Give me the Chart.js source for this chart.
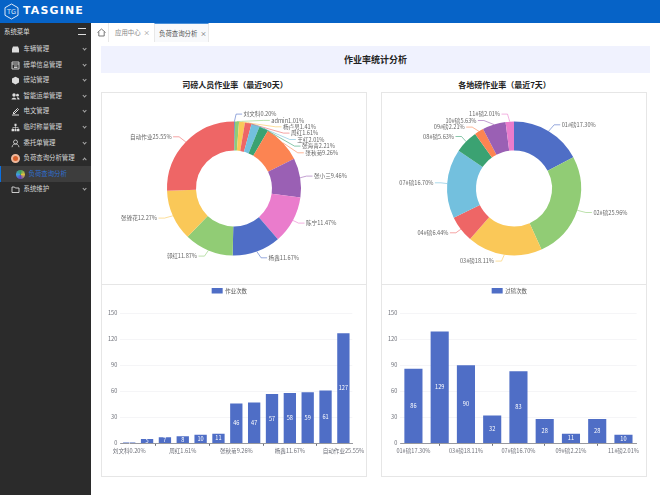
<!DOCTYPE html>
<html lang="zh">
<head>
<meta charset="utf-8">
<title>作业率统计分析</title>
<script src="https://cdn.jsdelivr.net/npm/chart.js@4"></script>
<style>
  * { box-sizing: border-box; }
  html, body { margin: 0; width: 660px; height: 495px; overflow: hidden; background: #fff; font-family: "Noto Sans CJK SC", sans-serif; }
  #top { position: absolute; left: 0; top: 0; width: 660px; height: 23px; background: #0663c7; }
  #top svg { position: absolute; left: 4px; top: 3px; }
  #brand { position: absolute; left: 23px; top: 4px; color: #fff; font: bold 11px/14px "DejaVu Sans", sans-serif; letter-spacing: 1.15px; }
  #side { position: absolute; left: 0; top: 23px; width: 91px; height: 472px; background: #2b2b2b; color: #d6d6d6; font-size: 6.4px; }
  .row { position: absolute; left: 0; width: 91px; height: 16px; line-height: 16px; white-space: nowrap; }
  .row span { position: absolute; left: 23.5px; }
  .row svg { position: absolute; left: 10.5px; top: 3.5px; }
  .row b { position: absolute; left: 82.5px; top: 5.5px; width: 3.2px; height: 3.2px; border-right: .7px solid #aaa; border-bottom: .7px solid #aaa; transform: rotate(45deg); }
  .row.open b { top: 7.5px; transform: rotate(225deg); }
  .row.open i { position: absolute; left: 10.5px; top: 3.5px; width: 9px; height: 9px; border-radius: 50%; background: #d8602c; border: 2px solid #eeb89c; }
  .row.on { background: #3d3d3d; color: #2f6fd0; border-left: 1.5px solid #0a6fe0; }
  .row.on span { left: 27.5px; }
  .row.on i { position: absolute; left: 14.5px; width: 9px; height: 9px; top: 3.5px; border-radius: 50%; background: conic-gradient(#3f9f5f, #e0c040, #6040c0, #3f9fe0, #3f9f5f); }
  #sideHead { position: absolute; left: 4px; top: 3px; line-height: 12px; font-size: 6.4px; color: #ddd; }
  #fold { position: absolute; left: 78px; top: 5px; width: 8px; height: 7px; border-top: 1px solid #ddd; border-bottom: 1px solid #ddd; }
  #tabs { position: absolute; left: 91px; top: 23px; width: 569px; height: 19px; font-size: 6.4px; color: #888; }
  #tabs div { position: absolute; top: 0; height: 19px; line-height: 20px; white-space: nowrap; }
  #homeTab { left: 0; width: 18px; border-right: 1px solid #e8e8e8; }
  #homeTab svg { position: absolute; left: 6px; top: 5px; }
  #tab1 { left: 24px; width: 39px; }
  #tab2 { left: 63px; width: 55px; padding-left: 4px; color: #555; background: #f8f9fb; border-top: 1px solid #4a90d9; border-left: 1px solid #e8e8e8; border-right: 1px solid #e8e8e8; }
  #band { position: absolute; left: 101px; top: 46px; width: 549px; height: 27px; background: #f0f2fe; text-align: center; line-height: 27px; font-size: 9px; font-weight: bold; color: #222; }
  .title { position: absolute; top: 79px; font-size: 8px; font-weight: bold; line-height: 12px; color: #222; white-space: nowrap; transform: translateX(-50%); }
  .box { position: absolute; border: 1px solid #e6e6e6; }
  .box canvas { position: absolute; left: 0; top: 0; }
</style>
</head>
<body>
<div id="top">
  <svg width="15" height="17" viewBox="0 0 15 17"><path d="M7.5 1 L14 4.7 V12.3 L7.5 16 L1 12.3 V4.7 Z" fill="none" stroke="#dfeaf8" stroke-width="1"/><text x="7.5" y="11" font-size="6.5" font-family="DejaVu Sans" fill="#dfeaf8" text-anchor="middle">TG</text></svg>
  <div id="brand">TASGINE</div>
</div>
<div id="side">
  <div id="sideHead">系统菜单</div><div id="fold"></div>
  <div class="row" style="top:18px"><svg width="9" height="9" viewBox="0 0 9 9"><path d="M2 1.5 H7 L8 4 V7.5 H1 V4 Z" fill="#ddd"/></svg><span>车辆管理</span><b></b></div>
  <div class="row" style="top:34px"><svg width="9" height="9" viewBox="0 0 9 9"><path d="M1 1 H8 V8 H1 Z M1 3 H8 M3 5 H6.5 M3 6.5 H6.5" fill="none" stroke="#ddd" stroke-width=".9"/></svg><span>磅单信息管理</span><b></b></div>
  <div class="row" style="top:49px"><svg width="9" height="9" viewBox="0 0 9 9"><path d="M4.5 .8 L8 2.6 V6.6 L4.5 8.4 L1 6.6 V2.6 Z" fill="#ddd"/></svg><span>磅站管理</span><b></b></div>
  <div class="row" style="top:65px"><svg width="9" height="9" viewBox="0 0 9 9"><circle cx="3" cy="3" r="1.7" fill="#ddd"/><circle cx="6.5" cy="3.2" r="1.4" fill="#ddd"/><path d="M.5 7.5 C.8 5 5 5 5.5 7.5 Z M6 5.2 C7.5 5 8.6 6 8.6 7.5 H6.5 Z" fill="#ddd"/></svg><span>智能运单管理</span><b></b></div>
  <div class="row" style="top:80px"><svg width="9" height="9" viewBox="0 0 9 9"><path d="M1 8 H8 M2 6 L6.5 1.5 L7.5 2.5 L3 7 Z" fill="none" stroke="#ddd"/></svg><span>电文管理</span><b></b></div>
  <div class="row" style="top:96px"><svg width="9" height="9" viewBox="0 0 9 9"><path d="M3.5 .8 H5.5 V3 H3.5 Z M.6 6 H3 V8.2 H.6 Z M3.5 6 H5.5 V8.2 H3.5 Z M6 6 H8.4 V8.2 H6 Z" fill="#ddd"/><path d="M4.5 3 V6 M1.8 6 V4.5 H7.2 V6" fill="none" stroke="#ddd" stroke-width=".6"/></svg><span>临时称量管理</span><b></b></div>
  <div class="row" style="top:112px"><svg width="9" height="9" viewBox="0 0 9 9"><circle cx="4.5" cy="3" r="2" fill="none" stroke="#ddd" stroke-width=".8"/><path d="M1 8.2 C1.5 5.5 3 5 4.5 5 C6 5 7.5 5.5 8 8.2" fill="none" stroke="#ddd" stroke-width=".8"/></svg><span>委托单管理</span><b></b></div>
  <div class="row open" style="top:127px"><i></i><span>负荷查询分析管理</span><b></b></div>
  <div class="row on" style="top:143px"><i></i><span>负荷查询分析</span></div>
  <div class="row" style="top:158px"><svg width="9" height="9" viewBox="0 0 9 9"><path d="M1 2 H3.5 L4.3 3 H8 V7.5 H1 Z" fill="none" stroke="#ddd" stroke-width=".9"/></svg><span>系统维护</span><b></b></div>
</div>
<div id="tabs">
  <div id="homeTab"><svg width="9" height="9" viewBox="0 0 9 9"><path d="M.5 4.5 L4.5 1 L8.5 4.5 M1.8 4 V8 H7.2 V4" fill="none" stroke="#555" stroke-width=".8"/></svg></div>
  <div id="tab1">应用中心 &nbsp;×</div>
  <div id="tab2">负荷查询分析 &nbsp;×</div>
</div>
<div id="band">作业率统计分析</div>
<div class="title" style="left:235px">司磅人员作业率（最近90天）</div>
<div class="title" style="left:504.5px">各地磅作业率（最近7天）</div>

<div class="box" style="left:101px;top:91.5px;width:266px;height:193px"><canvas id="driverPie"></canvas></div>
<div class="box" style="left:381px;top:91.5px;width:266px;height:193px"><canvas id="scalePie"></canvas></div>
<div class="box" style="left:101px;top:284px;width:266px;height:193px"><canvas id="driverBar"></canvas></div>
<div class="box" style="left:381px;top:284px;width:266px;height:193px"><canvas id="scaleBar"></canvas></div>

<script>
// 司磅人员
const driverLabels = ['刘文科0.20%', 'admin1.01%', '杨卢男1.41%', '周红1.61%', '王红2.01%', '张海青2.21%', '张秋菊9.26%', '张小三9.46%', '陈宁11.47%', '杨鑫11.67%', '郭红11.87%', '张锋花12.27%', '自动作业25.55%'];
const driverRates = [0.20, 1.01, 1.41, 1.61, 2.01, 2.21, 9.26, 9.46, 11.47, 11.67, 11.87, 12.27, 25.55];
const driverCounts = [1, 5, 7, 8, 10, 11, 46, 47, 57, 58, 59, 61, 127];

// 地磅
const scaleLabels = ['01#磅17.30%', '02#磅25.96%', '03#磅18.11%', '04#磅6.44%', '07#磅16.70%', '08#磅5.63%', '09#磅2.21%', '10#磅5.63%', '11#磅2.01%'];
const scaleRates = [17.30, 25.96, 18.11, 6.44, 16.70, 5.63, 2.21, 5.63, 2.01];
const scaleCounts = [86, 129, 90, 32, 83, 28, 11, 28, 10];

const palette = ['#4f6ec6', '#91cc75', '#fac858', '#ee6666', '#73c0de', '#3ba272', '#fc8452', '#9a60b4', '#ea7ccc'];
const barColor = '#4f6ec6';
const fontFamily = '"Noto Sans CJK SC", sans-serif';

// 标签文字相对圆心的偏移
const driverSpots = [[9.6, -74.4], [37.3, -68.1], [49, -61.7], [57, -55.4], [63.3, -49], [68, -42.4], [71.3, -35.7], [80, -12.4], [72, 34.6], [34.6, 69.3], [-37, 67.6], [-77, 29.6], [-62.4, -51.7]];
const scaleSpots = [[47.7, -63.7], [79.4, 24], [-20, 72.6], [-65.6, 44.3], [-80.6, -5.7], [-60, -52], [-49.3, -61.4], [-37.6, -68], [-14, -74.4]];

const pieLabelPlugin = {
  id: 'pieLabels',
  afterDatasetsDraw(chart, args, opts) {
    const ctx = chart.ctx;
    ctx.save();
    ctx.font = '5.6px ' + fontFamily;
    ctx.textBaseline = 'middle';
    chart.getDatasetMeta(0).data.forEach((arc, i) => {
      const mid = (arc.startAngle + arc.endAngle) / 2;
      const x0 = arc.x + Math.cos(mid) * arc.outerRadius;
      const y0 = arc.y + Math.sin(mid) * arc.outerRadius;
      const right = opts.spots[i][0] > 0;
      const side = right ? 1 : -1;
      const tx = arc.x + opts.spots[i][0];
      const ty = arc.y + opts.spots[i][1];
      const ex = tx - side * 1.5;
      const bendX = right ? Math.max(x0, ex - 6) : Math.min(x0, ex + 6);
      ctx.strokeStyle = palette[i % palette.length];
      ctx.lineWidth = 0.6;
      ctx.beginPath();
      ctx.moveTo(x0, y0);
      ctx.lineTo(bendX, ty);
      ctx.lineTo(ex, ty);
      ctx.stroke();
      ctx.fillStyle = '#666';
      ctx.textAlign = right ? 'left' : 'right';
      ctx.fillText(chart.data.labels[i], tx, ty);
    });
    ctx.restore();
  }
};

const barValuePlugin = {
  id: 'barValues',
  afterDatasetsDraw(chart) {
    const ctx = chart.ctx;
    const values = chart.data.datasets[0].data;
    ctx.save();
    ctx.font = '5.6px ' + fontFamily;
    ctx.fillStyle = '#fff';
    ctx.textAlign = 'center';
    ctx.textBaseline = 'middle';
    chart.getDatasetMeta(0).data.forEach((bar, i) => {
      ctx.fillText(values[i], bar.x, (bar.y + bar.base) / 2);
    });
    ctx.restore();
  }
};

// 图例高度固定，给绘图区留出顶部空白
const legendGapPlugin = {
  id: 'legendGap',
  beforeInit(chart) {
    const fit = chart.legend.fit;
    chart.legend.fit = function() {
      fit.call(this);
      this.height = 28.3;
    };
  }
};

function makePie(id, labels, rates, spots) {
  new Chart(document.getElementById(id), {
    type: 'doughnut',
    data: {
      labels: labels,
      datasets: [{ data: rates, backgroundColor: labels.map((l, i) => palette[i % palette.length]), borderWidth: 0 }]
    },
    options: {
      responsive: true,
      maintainAspectRatio: false,
      animation: false,
      radius: 67,
      cutout: '56.7%',
      plugins: { legend: { display: false }, tooltip: { enabled: false }, pieLabels: { spots: spots } }
    },
    plugins: [pieLabelPlugin]
  });
}

function makeBar(id, labels, counts, seriesName, every) {
  new Chart(document.getElementById(id), {
    type: 'bar',
    data: {
      labels: labels,
      datasets: [{ label: seriesName, data: counts, backgroundColor: barColor, categoryPercentage: 0.69, barPercentage: 1 }]
    },
    options: {
      responsive: true,
      maintainAspectRatio: false,
      animation: false,
      layout: { padding: { right: 9.4 } },
      scales: {
        x: {
          offset: true,
          grid: { drawOnChartArea: false, offset: true, color: '#6e7079', tickLength: 2.5 },
          border: { color: '#6e7079', width: 0.7 },
          ticks: {
            autoSkip: false, maxRotation: 0, minRotation: 0, padding: 1.5, color: '#6e7079',
            font: { size: 5.6, family: fontFamily },
            callback: function(value, index) { return index % every === 0 ? labels[index] : null; }
          },
          afterFit: function(scale) { scale.height = 32.7; }
        },
        y: {
          min: 0, max: 150,
          grid: { color: '#f0f1f4', lineWidth: 0.7, drawTicks: false },
          border: { display: false },
          ticks: { stepSize: 30, padding: 3, color: '#6e7079', font: { size: 5.6, family: fontFamily } },
          afterFit: function(scale) { scale.width = 18.3; }
        }
      },
      plugins: {
        tooltip: { enabled: false },
        legend: {
          position: 'top',
          labels: { boxWidth: 11, boxHeight: 5.5, padding: 3, color: '#555', font: { size: 5.4, family: fontFamily } }
        }
      }
    },
    plugins: [barValuePlugin, legendGapPlugin]
  });
}

makePie('driverPie', driverLabels, driverRates, driverSpots);
makePie('scalePie', scaleLabels, scaleRates, scaleSpots);
makeBar('driverBar', driverLabels, driverCounts, '作业次数', 3);
makeBar('scaleBar', scaleLabels, scaleCounts, '过磅次数', 2);
</script>
</body>
</html>
